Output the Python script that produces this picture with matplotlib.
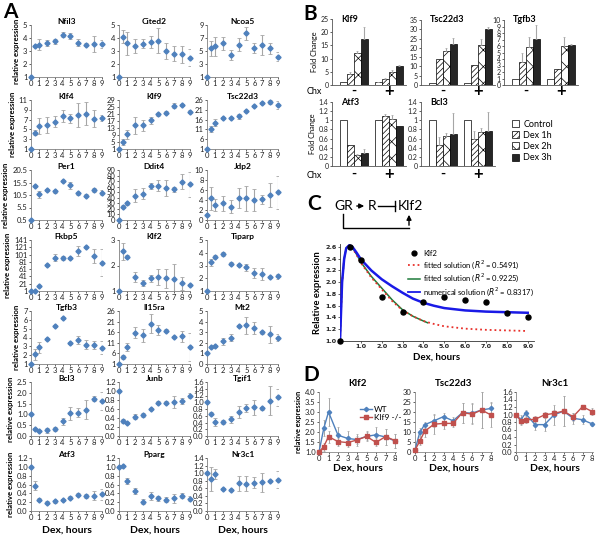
import matplotlib
matplotlib.use('Agg')
import matplotlib.pyplot as plt
from matplotlib.patches import Patch, FancyArrowPatch
from matplotlib.lines import Line2D
from matplotlib.ticker import FuncFormatter

plt.rcParams['font.family'] = ['Lato', 'DejaVu Sans']
plt.rcParams['hatch.linewidth'] = 0.5

W, H = 600, 538

# ---- panel A: time course (hours of Dex) ----
hours = [0, 0.5, 1, 2, 3, 4, 5, 6, 7, 8, 9]

nfil3 = [1, 3.4, 3.5, 3.6, 3.75, 4.25, 4.15, 3.65, 3.5, 3.55, 3.55]
nfil3_err = [0, 0.1, 0.4, 0.25, 0.2, 0.2, 0.2, 0.25, 0.1, 0.6, 0.3]
cited2 = [1, 4.1, 3.6, 3.4, 3.55, 3.7, 3.8, 3.0, 2.8, 2.75, 2.5]
cited2_err = [0, 0.5, 0.9, 0.55, 0.35, 0.45, 0.95, 0.65, 0.6, 0.65, 0.65]
ncoa5 = [1, 5.4, 5.7, 6.2, 4.4, 6.0, 7.7, 5.5, 5.9, 5.4, 4.1]
ncoa5_err = [0, 1.2, 1.5, 1.0, 0.8, 1.0, 1.0, 0.8, 1.5, 0.8, 0.7]
klf4 = [1, 4.3, 5.7, 5.9, 6.6, 7.8, 7.3, 7.9, 8.2, 7.2, 7.3]
klf4_err = [0, 0.5, 1.7, 1.6, 1.2, 1.2, 0.9, 2.5, 2.3, 1.8, 0.6]
klf9 = [1, 5, 9.5, 14.5, 14.5, 17.5, 20.8, 21.7, 25.7, 26.2, 22.4]
klf9_err = [0, 1.5, 2.5, 5, 3, 2, 0.8, 0.8, 1.5, 0.5, 0.8]
tsc22d3 = [1, 11.3, 14.5, 16.8, 16.9, 17.6, 20.3, 23, 24.6, 24.8, 23.4]
tsc22d3_err = [0, 1.5, 2, 0.5, 0.5, 1.5, 0.6, 0.6, 0.6, 1, 2]
per1 = [0.5, 14.3, 10.8, 12.5, 12.0, 16.1, 14.4, 11.3, 10.3, 12.6, 11.4]
per1_err = [0, 0.4, 1.3, 0.5, 0.6, 0.5, 1.5, 0.6, 0.5, 0.8, 1.0]
ddit4 = [0, 24, 30, 44, 47, 61, 62, 58, 55, 69, 64]
ddit4_err = [0, 3, 3, 12, 10, 5, 10, 14, 4, 13, 22]
jdp2 = [1, 4.4, 3.0, 3.4, 2.7, 4.5, 4.4, 4.0, 4.2, 5.0, 5.6]
jdp2_err = [0, 2.3, 1.2, 1.5, 1.3, 2, 2.5, 2.2, 0.9, 2.4, 3.3]
fkbp5 = [1, 1, 14, 72, 92, 91, 91, 111, 122, 97, 78]
fkbp5_err = [0, 0, 2, 3, 10, 6, 3, 13, 3, 20, 37]
klf2 = [1, 2.55, 2.35, 1.55, 1.3, 1.5, 1.55, 1.5, 1.47, 1.3, 1.25]
klf2_err = [0, 0.35, 0.05, 0.18, 0.12, 0.13, 0.3, 0.38, 0.6, 0.25, 0.04]
tiparp = [1, 3.25, 3.7, 3.9, 3.15, 3.05, 2.85, 2.4, 2.35, 2.1, 2.15]
tiparp_err = [0, 0.25, 0.15, 0.15, 0.1, 0.1, 0.3, 0.4, 0.45, 0.1, 0.2]
tgfb3 = [1, 2.1, 2.9, 3.85, 5.3, 6.2, 3.35, 3.75, 3.2, 3.15, 2.85]
tgfb3_err = [0, 0.6, 0.6, 0.1, 0.15, 0.1, 0.1, 0.45, 0.55, 0.4, 0.7]
il15ra = [1, 4.3, 9, 15.8, 14.5, 20, 17, 16.8, 13.8, 14, 9]
il15ra_err = [0, 1, 2, 2.5, 3, 4.5, 2.5, 0.5, 0.5, 2.5, 6.5]
mt2 = [1, 1.6, 1.7, 2.15, 2.5, 3.6, 3.65, 3.4, 3.0, 2.8, 2.5]
mt2_err = [0, 0.1, 0.1, 0.35, 0.3, 0.1, 0.8, 0.6, 0.15, 0.8, 0.3]
bcl3 = [1, 0.32, 0.22, 0.27, 0.33, 0.68, 1.05, 1.08, 1.22, 1.73, 1.62]
bcl3_err = [0, 0.05, 0.05, 0.12, 0.08, 0.15, 0.3, 0.2, 0.45, 0.1, 0.4]
junb = [1.0, 0.34, 0.29, 0.43, 0.47, 0.6, 0.74, 0.74, 0.75, 0.78, 0.9]
junb_err = [0, 0.04, 0.03, 0.05, 0.04, 0.03, 0.03, 0.03, 0.13, 0.06, 0.06]
tgif1 = [1.0, 0.66, 0.42, 0.42, 0.5, 0.7, 0.82, 0.85, 0.82, 1.05, 1.15]
tgif1_err = [0, 0.05, 0.12, 0.05, 0.1, 0.18, 0.12, 0.22, 0.05, 0.42, 0.25]
atf3 = [1.0, 0.57, 0.26, 0.19, 0.22, 0.25, 0.3, 0.37, 0.34, 0.35, 0.38]
atf3_err = [0, 0.1, 0.03, 0.03, 0.03, 0.03, 0.03, 0.03, 0.04, 0.1, 0.12]
pparg = [1.0, 1.03, 0.68, 0.45, 0.21, 0.34, 0.29, 0.26, 0.29, 0.35, 0.28]
pparg_err = [0, 0.02, 0.06, 0.06, 0.06, 0.08, 0.06, 0.06, 0.1, 0.06, 0.06]
nr3c1 = [1.0, 0.85, 0.98, 0.59, 0.56, 0.73, 0.72, 0.75, 0.76, 0.8, 0.83]
nr3c1_err = [0, 0.32, 0.13, 0.03, 0.03, 0.2, 0.2, 0.15, 0.25, 0.03, 0.22]

# ---- panel B: fold change, Chx - / + ----
bar_groups = ['Control', 'Dex 1h', 'Dex 2h', 'Dex 3h']
b_klf9_minus = [1, 4.3, 12, 17.5]
b_klf9_minus_err = [0, 0.8, 0.8, 4.5]
b_klf9_plus = [1, 2.2, 4.8, 7.2]
b_klf9_plus_err = [0.2, 0.3, 0.8, 0.2]
b_tsc_minus = [1, 14, 18.5, 22]
b_tsc_minus_err = [0, 0, 1.5, 3.5]
b_tsc_plus = [1, 11, 21.7, 30]
b_tsc_plus_err = [0, 0, 3, 1.5]
b_tgfb3_minus = [1, 3.5, 5.8, 7.1]
b_tgfb3_minus_err = [0, 1.4, 1.6, 2.1]
b_tgfb3_plus = [1, 2.5, 6.0, 6.1]
b_tgfb3_plus_err = [0, 0, 1.4, 0.2]
b_atf3_minus = [1, 0.45, 0.23, 0.29]
b_atf3_minus_err = [0, 0, 0.03, 0.08]
b_atf3_plus = [1, 1.09, 1.02, 0.87]
b_atf3_plus_err = [0, 0.05, 0.1, 0]
b_bcl3_minus = [1, 0.47, 0.65, 0.7]
b_bcl3_minus_err = [0, 0.17, 0.07, 0.45]
b_bcl3_plus = [1, 0.58, 0.75, 0.76]
b_bcl3_plus_err = [0, 0.19, 0.08, 0.42]

# ---- panel C: Klf2 model ----
c_hours = [0, 0.5, 1, 2, 3, 4, 5, 6, 7, 8, 9]
c_klf2 = [1.0, 2.6, 2.37, 1.75, 1.49, 1.66, 1.75, 1.7, 1.66, 1.48, 1.41]
blue_x = [0, 0.05, 0.1, 0.2, 0.3, 0.45, 0.6, 0.8, 1.0, 1.5, 2, 2.5, 3, 3.5, 4, 4.5, 5, 6, 7, 8, 9]
blue_y = [1.0, 1.5, 2.0, 2.4, 2.58, 2.63, 2.6, 2.5, 2.39, 2.2, 2.05, 1.93, 1.82, 1.72, 1.65, 1.6, 1.56, 1.52, 1.5, 1.49, 1.48]
red_x = [0, 0.05, 0.1, 0.2, 0.3, 0.45, 0.6, 0.8, 1.0, 1.5, 2, 2.5, 3, 3.5, 4, 4.5, 5, 6, 7, 8, 9]
red_y = [1.0, 1.5, 2.0, 2.4, 2.58, 2.63, 2.58, 2.46, 2.33, 2.08, 1.88, 1.68, 1.52, 1.42, 1.34, 1.29, 1.25, 1.21, 1.19, 1.18, 1.17]
green_x = [0, 0.05, 0.1, 0.2, 0.3, 0.45, 0.6, 0.8, 1.0, 1.5, 2, 2.5, 3, 3.5, 4, 4.2]
green_y = [1.0, 1.5, 2.0, 2.4, 2.58, 2.63, 2.59, 2.47, 2.34, 2.1, 1.9, 1.7, 1.53, 1.42, 1.34, 1.31]

# ---- panel D: WT vs Klf9 -/- ----
d_hours = [0, 0.5, 1, 2, 3, 4, 5, 6, 7, 8]
d_klf2_wt = [1.0, 2.18, 3.0, 1.84, 1.68, 1.62, 1.78, 1.86, 1.75, 1.55]
d_klf2_wt_err = [0, 0.4, 0.7, 0.4, 0.35, 0.3, 0.25, 0.4, 0.4, 0.35]
d_klf2_ko = [1.0, 1.27, 1.77, 1.52, 1.47, 1.6, 1.78, 1.48, 1.77, 1.57]
d_klf2_ko_err = [0, 0.2, 0.3, 0.2, 0.2, 0.2, 0.2, 0.2, 0.4, 0.35]
d_tsc_wt = [1, 9.8, 13.6, 15.6, 17.7, 15.6, 19.7, 19.4, 21, 21.8]
d_tsc_wt_err = [0, 2, 1.5, 3, 2, 2, 5, 5, 9, 3]
d_tsc_ko = [1, 5.4, 10.3, 13.9, 14.3, 14.3, 19.7, 18.9, 21, 18.5]
d_tsc_ko_err = [0, 2, 3, 5, 3, 2, 5, 5, 9, 6]
d_nr3c1_wt = [1.0, 0.86, 1.03, 0.73, 0.73, 0.99, 1.09, 0.9, 0.86, 0.75]
d_nr3c1_wt_err = [0, 0.12, 0.08, 0.15, 0.18, 0.27, 0.4, 0.15, 0.12, 0.05]
d_nr3c1_ko = [1.0, 0.83, 0.86, 0.87, 0.99, 1.03, 1.09, 0.94, 1.21, 1.08]
d_nr3c1_ko_err = [0, 0.1, 0.08, 0.08, 0.08, 0.08, 0.4, 0.1, 0.05, 0.1]

BLUE = '#4F81BD'
RED = '#C0504D'
GREY = '#A6A6A6'


def box(l, t, r, b):  # pixel box -> figure fraction
    return [l / W, 1 - b / H, (r - l) / W, (b - t) / H]


def fy(y):
    return 1 - y / H


def fx(x):
    return x / W


def clean(ax, color='#808080'):
    for s in ['top', 'right']:
        ax.spines[s].set_visible(False)
    for s in ['left', 'bottom']:
        ax.spines[s].set_color(color)
        ax.spines[s].set_linewidth(0.6)
    ax.tick_params(length=1.5, width=0.5, pad=1, labelsize=5.5, colors='#222222')


fig = plt.figure(figsize=(6, 5.38), dpi=100)

# ================= A =================
a_rows = [
    [('Nfil3', nfil3, nfil3_err, 1, 5, 1, '%g'), ('Cited2', cited2, cited2_err, 1, 5, 1, '%g'),
     ('Ncoa5', ncoa5, ncoa5_err, 1, 9, 2, '%g')],
    [('Klf4', klf4, klf4_err, 1, 11, 2, '%g'), ('Klf9', klf9, klf9_err, 1, 29, 4, '%g'),
     ('Tsc22d3', tsc22d3, tsc22d3_err, 1, 26, 5, '%g')],
    [('Per1', per1, per1_err, 0.5, 20.5, 5, '%.1f'), ('Ddit4', ddit4, ddit4_err, 0, 90, 10, '%g'),
     ('Jdp2', jdp2, jdp2_err, 0, 10, 2, '%g')],
    [('Fkbp5', fkbp5, fkbp5_err, 1, 141, 20, '%g'), ('Klf2', klf2, klf2_err, 1, 3, 1, '%g'),
     ('Tiparp', tiparp, tiparp_err, 1, 5, 1, '%g')],
    [('Tgfb3', tgfb3, tgfb3_err, 1, 7, 1, '%g'), ('Il15ra', il15ra, il15ra_err, 1, 26, 5, '%g'),
     ('Mt2', mt2, mt2_err, 0, 5, 1, '%g')],
    [('Bcl3', bcl3, bcl3_err, 0, 2.5, 0.5, '%.1f'), ('Junb', junb, junb_err, 0, 1.2, 0.2, '%.1f'),
     ('Tgif1', tgif1, tgif1_err, 0, 1.6, 0.2, '%.1f')],
    [('Atf3', atf3, atf3_err, 0, 1.2, 0.2, '%.1f'), ('Pparg', pparg, pparg_err, 0, 1.2, 0.2, '%.1f'),
     ('Nr3c1', nr3c1, nr3c1_err, 0, 1.4, 0.2, '%.1f')],
]
row_tops = [25, 100, 170, 240, 311, 382, 458]
row_bots = [77, 149, 220, 291, 364, 436, 511]
col_lefts = [31, 119, 207]

for r, row in enumerate(a_rows):
    for c, (name, vals, err, y0, y1, step, fmt) in enumerate(row):
        ax = fig.add_axes(box(col_lefts[c], row_tops[r], col_lefts[c] + 71, row_bots[r]))
        clean(ax)
        ax.errorbar(hours, vals, yerr=err, fmt='none', ecolor=GREY, elinewidth=0.8,
                    capsize=1.2, capthick=0.6)
        ax.plot(hours, vals, 'D', color=BLUE, ms=2.6, clip_on=False, zorder=5)
        ax.set_xlim(0, 9)
        ax.set_ylim(y0, y1)
        n = int(round((y1 - y0) / step))
        ticks = [y0 + i * step for i in range(n + 1)]
        ax.set_yticks(ticks)
        ax.yaxis.set_major_formatter(FuncFormatter(lambda v, p, f=fmt: f % v))
        ax.set_xticks(range(10))
        ax.set_title(name, fontsize=6, fontweight='bold', pad=1)
        if c == 0:
            ax.set_ylabel('relative expression', fontsize=5.6, fontweight='bold', labelpad=2)
        if r == 6:
            ax.set_xlabel('Dex, hours', fontsize=7.5, fontweight='bold', labelpad=3)

fig.text(fx(3), fy(12), 'A', fontsize=15, fontweight='bold', va='center')

# ================= B =================
hatches = [None, '//////', 'xx', None]
fills = ['white', 'white', 'white', '#262626']
offs = [-0.3, -0.1, 0.1, 0.3]


def bar_panel(left, top, bot, title, mv, me, pv, pe, ymax, step, chx_y, ylab):
    ax = fig.add_axes(box(left, top, left + 74, bot))
    clean(ax, '#555555')
    ax.tick_params(axis='x', length=0)
    for g, (vals, err) in enumerate([(mv, me), (pv, pe)]):
        for i in range(4):
            ax.bar(g + offs[i], vals[i], 0.2, color=fills[i], hatch=hatches[i],
                   edgecolor='black', linewidth=0.5)
            if err[i] > 0:
                ax.errorbar(g + offs[i], vals[i], yerr=[[0], [err[i]]], fmt='none',
                            ecolor=GREY, elinewidth=0.8, capsize=1, capthick=0.5)
    ax.set_xlim(-0.62, 1.5)
    ax.set_ylim(0, ymax)
    n = int(round(ymax / step))
    ax.set_yticks([i * step for i in range(n + 1)])
    ax.yaxis.set_major_formatter(FuncFormatter(lambda v, p: '%g' % round(v, 2)))
    ax.tick_params(labelsize=5)
    ax.set_xticks([])
    ax.text(0.12, 1.0, title, transform=ax.transAxes, fontsize=6.5, fontweight='bold', va='center')
    fig.text(fx(left + 22), fy(chx_y), '-', fontsize=10, fontweight='bold', ha='center', va='center')
    fig.text(fx(left + 57), fy(chx_y), '+', fontsize=12, fontweight='bold', ha='center', va='center')
    if ylab:
        ax.set_ylabel('Fold Change', fontsize=5.3, labelpad=2)
        fig.text(fx(left - 10), fy(chx_y + 1), 'Chx', fontsize=6.5, ha='right', va='center')
    return ax


bar_panel(332, 19, 85, 'Klf9', b_klf9_minus, b_klf9_minus_err, b_klf9_plus, b_klf9_plus_err, 25, 5, 91, True)
bar_panel(421, 20, 85, 'Tsc22d3', b_tsc_minus, b_tsc_minus_err, b_tsc_plus, b_tsc_plus_err, 35, 5, 91, False)
bar_panel(504, 20, 85, 'Tgfb3', b_tgfb3_minus, b_tgfb3_minus_err, b_tgfb3_plus, b_tgfb3_plus_err, 10, 1, 91, False)
bar_panel(332, 102, 166, 'Atf3', b_atf3_minus, b_atf3_minus_err, b_atf3_plus, b_atf3_plus_err, 1.4, 0.2, 174, True)
bar_panel(421, 102, 166, 'Bcl3', b_bcl3_minus, b_bcl3_minus_err, b_bcl3_plus, b_bcl3_plus_err, 1.4, 0.2, 174, False)

leg_handles = [Patch(facecolor=fills[i], edgecolor='black', hatch=hatches[i], linewidth=0.5) for i in range(4)]
fig.legend(leg_handles, bar_groups, loc='upper left', bbox_to_anchor=(fx(507), fy(115)),
           frameon=False, fontsize=6.5, handlelength=0.8, handleheight=0.8,
           handletextpad=0.5, labelspacing=0.25, borderpad=0)

fig.text(fx(303), fy(14), 'B', fontsize=15, fontweight='bold', va='center')

# ================= C =================
fig.text(fx(307), fy(204), 'C', fontsize=15, fontweight='bold', va='center')
fig.text(fx(344), fy(206), 'GR', fontsize=10, ha='center', va='center')
fig.text(fx(372), fy(206), 'R', fontsize=10, ha='center', va='center')
fig.text(fx(398), fy(206), 'Klf2', fontsize=10, ha='left', va='center')
fig.patches.append(FancyArrowPatch(
    (fx(354), fy(206)), (fx(367), fy(206)), transform=fig.transFigure,
    arrowstyle='-|>', mutation_scale=7, lw=1, color='black'))
fig.lines.append(Line2D([fx(378), fx(395)], [fy(206), fy(206)], transform=fig.transFigure, color='black', lw=1))
fig.lines.append(Line2D([fx(395), fx(395)], [fy(201), fy(211)], transform=fig.transFigure, color='black', lw=1))
fig.lines.append(Line2D([fx(343), fx(343), fx(409)], [fy(214), fy(228), fy(228)],
                        transform=fig.transFigure, color='black', lw=1))
fig.patches.append(FancyArrowPatch(
    (fx(409), fy(228)), (fx(409), fy(212)), transform=fig.transFigure,
    arrowstyle='-|>', mutation_scale=7, lw=1, color='black'))

axc = fig.add_axes(box(340, 244, 534, 341))
clean(axc, '#333333')
axc.plot(red_x, red_y, ':', color='#E8302A', lw=1.3, zorder=3)
axc.plot(green_x, green_y, '-', color='#1E7B3A', lw=1.1, zorder=2)
axc.plot(blue_x, blue_y, '-', color='#1A1AE6', lw=1.8, zorder=4)
axc.plot(c_hours, c_klf2, 'o', color='black', ms=3.6, zorder=6, clip_on=False)
axc.set_xlim(0, 9.3)
axc.set_ylim(1.0, 2.65)
axc.set_yticks([1.0 + 0.2 * i for i in range(9)])
axc.yaxis.set_major_formatter(FuncFormatter(lambda v, p: '%.1f' % v))
axc.set_xticks(range(1, 10))
axc.xaxis.set_major_formatter(FuncFormatter(lambda v, p: '%.1f' % v))
axc.tick_params(labelsize=4.6)
for lab in axc.get_xticklabels() + axc.get_yticklabels():
    lab.set_family('DejaVu Sans')
    lab.set_fontweight('bold')
axc.set_xlabel('Dex, hours', fontsize=7, fontweight='bold', labelpad=2)
axc.set_ylabel('Relative expression', fontsize=6.8, fontweight='bold', labelpad=2)
c_handles = [Line2D([], [], marker='o', ls='none', color='black', ms=3.5),
             Line2D([], [], ls=':', color='#E8302A', lw=1.3),
             Line2D([], [], ls='-', color='#1E7B3A', lw=1.1),
             Line2D([], [], ls='-', color='#1A1AE6', lw=1.3)]
c_labels = ['Klf2', 'fitted solution ($R^2$ = 0.5491)', 'fitted solution ($R^2$ = 0.9225)',
            'numerical solution ($R^2$ = 0.8317)']
axc.legend(c_handles, c_labels, loc='upper left', bbox_to_anchor=(fx(404), fy(246)),
           bbox_transform=fig.transFigure, frameon=False, fontsize=5.5, handlelength=1.6,
           handletextpad=0.4, labelspacing=0.15, borderpad=0)

# ================= D =================
fig.text(fx(303), fy(375), 'D', fontsize=15, fontweight='bold', va='center')
d_panels = [
    (319, 'Klf2', d_klf2_wt, d_klf2_wt_err, d_klf2_ko, d_klf2_ko_err, 1.0, 4.0, 0.5, '%.1f'),
    (415, 'Tsc22d3', d_tsc_wt, d_tsc_wt_err, d_tsc_ko, d_tsc_ko_err, 0, 30, 5, '%g'),
    (516, 'Nr3c1', d_nr3c1_wt, d_nr3c1_wt_err, d_nr3c1_ko, d_nr3c1_ko_err, 0, 1.6, 0.2, '%.1f'),
]
for i, (left, name, wt, wte, ko, koe, y0, y1, step, fmt) in enumerate(d_panels):
    ax = fig.add_axes(box(left, 392, left + 77, 452))
    clean(ax, '#888888')
    ax.errorbar(d_hours, wt, yerr=wte, fmt='none', ecolor=GREY, elinewidth=0.7, capsize=1, capthick=0.5)
    ax.errorbar(d_hours, ko, yerr=koe, fmt='none', ecolor=GREY, elinewidth=0.7, capsize=1, capthick=0.5)
    l1, = ax.plot(d_hours, wt, '-D', color=BLUE, ms=2.2, lw=1, clip_on=False, zorder=4)
    l2, = ax.plot(d_hours, ko, '-s', color=RED, ms=2.2, lw=1, clip_on=False, zorder=4)
    ax.set_xlim(0, 8.1)
    ax.set_ylim(y0, y1)
    n = int(round((y1 - y0) / step))
    ax.set_yticks([y0 + k * step for k in range(n + 1)])
    ax.yaxis.set_major_formatter(FuncFormatter(lambda v, p, f=fmt: f % v))
    ax.set_xticks(range(9))
    ax.tick_params(labelsize=5.5)
    ax.set_title(name, fontsize=7, fontweight='bold', pad=4)
    ax.set_xlabel('Dex, hours', fontsize=7.5, fontweight='bold', labelpad=1)
    if i == 0:
        ax.set_ylabel('relative expression', fontsize=5.3, fontweight='bold', labelpad=2)
        ax.legend([l1, l2], ['WT', 'Klf9 -/-'], loc='upper left',
                  bbox_to_anchor=(fx(356), fy(402)), bbox_transform=fig.transFigure,
                  frameon=False, fontsize=6, handlelength=1.4, handletextpad=0.3,
                  labelspacing=0.1, borderpad=0)

fig.savefig('out.png', dpi=100)
